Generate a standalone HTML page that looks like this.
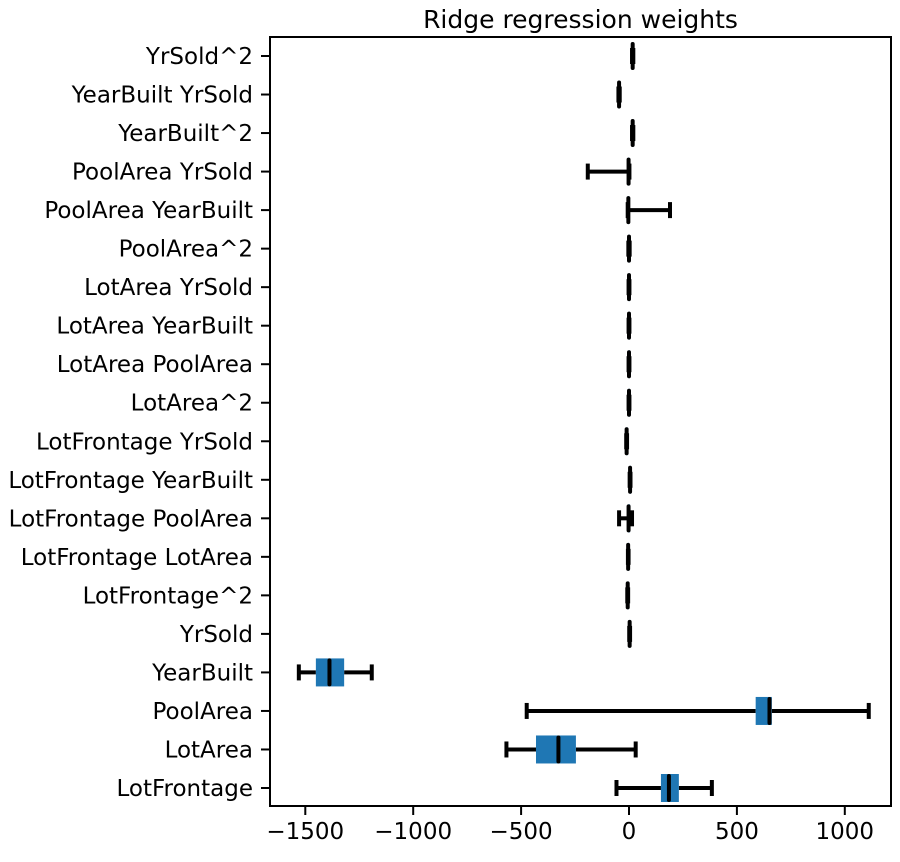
<!DOCTYPE html>
<html><head><meta charset="utf-8"><style>
body{margin:0;background:#fff;}
svg text{font-family:"DejaVu Sans","Liberation Sans",sans-serif;fill:#000;}
</style></head><body>
<svg id="chart" width="900" height="857"></svg>
<script>
const categories=["LotFrontage","LotArea","PoolArea","YearBuilt","YrSold","LotFrontage^2","LotFrontage LotArea","LotFrontage PoolArea","LotFrontage YearBuilt","LotFrontage YrSold","LotArea^2","LotArea PoolArea","LotArea YearBuilt","LotArea YrSold","PoolArea^2","PoolArea YearBuilt","PoolArea YrSold","YearBuilt^2","YearBuilt YrSold","YrSold^2"];
const lowWhisker=[-58,-568,-474,-1530,1,-8,-5,-46,3,-13,-2,-2,-2,-2,-3,-6,-191,14,-49,14];
const q1Values=[148,-431,587,-1451,2,-7,-5,-5,4,-12,-1,-1,-1,-1,-2,-5,-5,15,-48,15];
const medianValues=[185,-327,651,-1388,3,-6,-4,-2,5,-11,0,0,0,0,0,-3,-2,17,-46,17];
const q3Values=[231,-246,662,-1320,4,-5,-3,5,6,-10,1,1,1,1,2,0,1,19,-44,19];
const highWhisker=[384,31,1111,-1192,5,-4,-2,14,7,-9,2,2,2,2,3,190,2,20,-43,20];
const xTicks=[-1500,-1000,-500,0,500,1000];
const xTickLabels=["\u22121500","\u22121000","\u2212500","0","500","1000"];

const L=270,R=891,T=37,B=806,X0=629,K=0.2158;
const xs=v=>X0+v*K;
const ys=i=>788-i*(788-56)/19;
const NS="http://www.w3.org/2000/svg";
const svg=document.getElementById('chart');
function mk(t,a){const e=document.createElementNS(NS,t);for(const k in a)e.setAttribute(k,a[k]);svg.appendChild(e);return e;}

const title=mk('text',{x:(L+R)/2,y:28,'text-anchor':'middle','font-size':25});
title.textContent="Ridge regression weights";



categories.forEach((c,i)=>{
  const y=ys(i),bh=28,ch=16;
  const g=document.createElementNS(NS,'g');svg.appendChild(g);
  
  
  const add=(t,a)=>{const e=document.createElementNS(NS,t);for(const k in a)e.setAttribute(k,a[k]);g.appendChild(e);return e;};
  add('line',{x1:xs(lowWhisker[i]),x2:xs(q1Values[i]),y1:y,y2:y,stroke:'#000','stroke-width':4});
  add('line',{x1:xs(q3Values[i]),x2:xs(highWhisker[i]),y1:y,y2:y,stroke:'#000','stroke-width':4});
  add('line',{x1:xs(lowWhisker[i]),x2:xs(lowWhisker[i]),y1:y-ch/2,y2:y+ch/2,stroke:'#000','stroke-width':4});
  add('line',{x1:xs(highWhisker[i]),x2:xs(highWhisker[i]),y1:y-ch/2,y2:y+ch/2,stroke:'#000','stroke-width':4});
  add('rect',{x:xs(q1Values[i]),y:y-bh/2,width:Math.max(1,xs(q3Values[i])-xs(q1Values[i])),height:bh,fill:'#1f77b4'});
  add('line',{x1:xs(medianValues[i]),x2:xs(medianValues[i]),y1:y-bh/2+2,y2:y+bh/2-2,stroke:'#000','stroke-width':4,'stroke-linecap':'round'});
  const tk=mk('line',{x1:L-9,x2:L,y1:y,y2:y,stroke:'#000','stroke-width':2});
  
  
  const lb=mk('text',{x:L-17,y:y+8,'text-anchor':'end','font-size':23});
  lb.textContent=c;
  
  
});

xTicks.forEach((v,i)=>{
  const tk=mk('line',{x1:xs(v),x2:xs(v),y1:B,y2:B+9,stroke:'#000','stroke-width':2});
  
  
  const lb=mk('text',{x:xs(v),y:B+33,'text-anchor':'middle','font-size':23});
  lb.textContent=xTickLabels[i];
  
  
});

const frame=mk('rect',{x:L,y:T,width:R-L,height:B-T,fill:'none',stroke:'#000','stroke-width':2});


</script>
</body></html>
